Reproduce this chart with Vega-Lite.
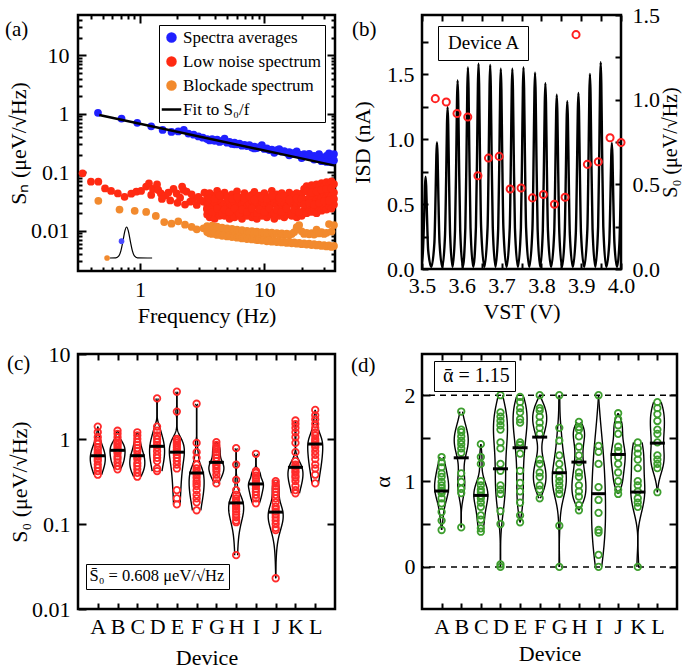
{
"$schema":"https://vega.github.io/schema/vega-lite/v6.json",
"padding":{"left":3,"top":2,"right":0,"bottom":0},
"config":{"font":"Liberation Serif","view":{"stroke":"black","strokeWidth":2.5},
"axis":{"labelFont":"Liberation Serif","labelFontSize":22,"titleFont":"Liberation Serif","titleFontSize":22,"titleFontWeight":"normal","labelColor":"black","titleColor":"black","tickColor":"black","tickWidth":2,"domain":false,"grid":false,"labelFlush":false,"labelOverlap":false,"labelBound":false},
"legend":{"labelFont":"Liberation Serif","labelColor":"black"},
"title":{"font":"Liberation Serif","fontSize":21,"fontWeight":"normal","anchor":"start","frame":"group","offset":0,"baseline":"alphabetic","color":"black"}},
"datasets":{
"blue":[{"f":0.459,"v":1.04},{"f":0.71,"v":0.83},{"f":0.95,"v":0.7},{"f":1.23,"v":0.61},{"f":1.52,"v":0.53},{"f":1.79,"v":0.49},{"f":2.03,"v":0.5},{"f":2.25,"v":0.53},{"f":2.45,"v":0.46},{"f":2.7,"v":0.44},{"f":2.95,"v":0.41},{"f":3.2,"v":0.39},{"f":3.467,"v":0.37},{"f":3.631,"v":0.35},{"f":3.802,"v":0.37},{"f":3.981,"v":0.345},{"f":4.169,"v":0.36},{"f":4.365,"v":0.33},{"f":4.571,"v":0.345},{"f":4.786,"v":0.375},{"f":5.012,"v":0.32},{"f":5.248,"v":0.33},{"f":5.495,"v":0.305},{"f":5.754,"v":0.32},{"f":6.026,"v":0.3},{"f":6.31,"v":0.31},{"f":6.607,"v":0.285},{"f":6.918,"v":0.295},{"f":7.244,"v":0.28},{"f":7.586,"v":0.29},{"f":7.943,"v":0.265},{"f":8.318,"v":0.275},{"f":8.71,"v":0.26},{"f":9.12,"v":0.27},{"f":9.55,"v":0.29},{"f":10,"v":0.25},{"f":10.47,"v":0.255},{"f":10.96,"v":0.24},{"f":11.48,"v":0.245},{"f":12.02,"v":0.23},{"f":12.59,"v":0.24},{"f":13.18,"v":0.25},{"f":13.8,"v":0.225},{"f":14.45,"v":0.23},{"f":15.14,"v":0.215},{"f":15.85,"v":0.22},{"f":16.6,"v":0.205},{"f":17.38,"v":0.215},{"f":18.2,"v":0.227},{"f":19.05,"v":0.2},{"f":19.95,"v":0.195},{"f":20.89,"v":0.205},{"f":21.88,"v":0.19},{"f":22.91,"v":0.207},{"f":23.99,"v":0.185},{"f":25.12,"v":0.19},{"f":26.3,"v":0.178},{"f":27.54,"v":0.205},{"f":28.84,"v":0.18},{"f":30.2,"v":0.17},{"f":31.62,"v":0.19},{"f":33.11,"v":0.21},{"f":34.67,"v":0.175},{"f":36.31,"v":0.205},{"f":15.85,"v":0.195},{"f":19.95,"v":0.175},{"f":25.12,"v":0.165},{"f":28.84,"v":0.155},{"f":31.62,"v":0.15},{"f":34.67,"v":0.148},{"f":36.31,"v":0.16},{"f":12.02,"v":0.215},{"f":8.318,"v":0.255},{"f":5.754,"v":0.3}],
"red":[{"f":0.345,"v":0.096},{"f":0.403,"v":0.069},{"f":0.462,"v":0.069},{"f":0.523,"v":0.053},{"f":0.585,"v":0.048},{"f":0.663,"v":0.0434},{"f":0.751,"v":0.038},{"f":0.85,"v":0.043},{"f":0.933,"v":0.0465},{"f":1.02,"v":0.048},{"f":1.12,"v":0.057},{"f":1.18,"v":0.0645},{"f":1.23,"v":0.041},{"f":1.27,"v":0.052},{"f":1.37,"v":0.062},{"f":1.4,"v":0.05},{"f":1.47,"v":0.0435},{"f":1.6,"v":0.04},{"f":1.69,"v":0.045},{"f":1.86,"v":0.052},{"f":1.97,"v":0.0435},{"f":2.1,"v":0.0367},{"f":2.18,"v":0.057},{"f":2.23,"v":0.05},{"f":2.37,"v":0.0465},{"f":2.53,"v":0.0314},{"f":2.69,"v":0.0356},{"f":2.86,"v":0.0276},{"f":3.05,"v":0.0335},{"f":3.24,"v":0.0314},{"f":3.45,"v":0.024},{"f":1.5,"v":0.035},{"f":1.75,"v":0.033},{"f":2.0,"v":0.03},{"f":2.3,"v":0.028},{"f":2.6,"v":0.042},{"f":2.95,"v":0.038},{"f":3.3,"v":0.045},
{"f":3.467,"v":0.037},{"f":3.467,"v":0.028},{"f":3.467,"v":0.019},{"f":3.631,"v":0.044},{"f":3.631,"v":0.031},{"f":3.631,"v":0.017},{"f":3.802,"v":0.033},{"f":3.802,"v":0.025},{"f":3.802,"v":0.021},{"f":3.981,"v":0.04},{"f":3.981,"v":0.03},{"f":3.981,"v":0.016},{"f":4.169,"v":0.048},{"f":4.169,"v":0.027},{"f":4.169,"v":0.02},{"f":4.365,"v":0.035},{"f":4.365,"v":0.033},{"f":4.365,"v":0.018},{"f":4.571,"v":0.041},{"f":4.571,"v":0.026},{"f":4.571,"v":0.022},{"f":4.786,"v":0.045},{"f":4.786,"v":0.029},{"f":4.786,"v":0.018},{"f":5.012,"v":0.039},{"f":5.012,"v":0.026},{"f":5.012,"v":0.021},{"f":5.248,"v":0.033},{"f":5.248,"v":0.032},{"f":5.248,"v":0.016},{"f":5.495,"v":0.042},{"f":5.495,"v":0.027},{"f":5.495,"v":0.019},{"f":5.754,"v":0.036},{"f":5.754,"v":0.03},{"f":5.754,"v":0.017},{"f":6.026,"v":0.047},{"f":6.026,"v":0.025},{"f":6.026,"v":0.022},{"f":6.31,"v":0.037},{"f":6.31,"v":0.033},{"f":6.31,"v":0.018},{"f":6.607,"v":0.034},{"f":6.607,"v":0.028},{"f":6.607,"v":0.016},{"f":6.918,"v":0.044},{"f":6.918,"v":0.031},{"f":6.918,"v":0.02},{"f":7.244,"v":0.038},{"f":7.244,"v":0.026},{"f":7.244,"v":0.018},{"f":7.586,"v":0.035},{"f":7.586,"v":0.029},{"f":7.586,"v":0.021},{"f":7.943,"v":0.041},{"f":7.943,"v":0.033},{"f":7.943,"v":0.017},{"f":8.318,"v":0.046},{"f":8.318,"v":0.027},{"f":8.318,"v":0.019},{"f":8.71,"v":0.036},{"f":8.71,"v":0.03},{"f":8.71,"v":0.016},{"f":9.12,"v":0.04},{"f":9.12,"v":0.025},{"f":9.12,"v":0.02},{"f":9.55,"v":0.034},{"f":9.55,"v":0.032},{"f":9.55,"v":0.018},{"f":10,"v":0.044},{"f":10,"v":0.028},{"f":10,"v":0.022},{"f":10.47,"v":0.038},{"f":10.47,"v":0.031},{"f":10.47,"v":0.017},{"f":10.96,"v":0.037},{"f":10.96,"v":0.026},{"f":10.96,"v":0.019},{"f":11.48,"v":0.048},{"f":11.48,"v":0.033},{"f":11.48,"v":0.021},{"f":12.02,"v":0.035},{"f":12.02,"v":0.029},{"f":12.02,"v":0.016},{"f":12.59,"v":0.042},{"f":12.59,"v":0.027},{"f":12.59,"v":0.02},{"f":13.18,"v":0.037},{"f":13.18,"v":0.032},{"f":13.18,"v":0.018},{"f":13.8,"v":0.044},{"f":13.8,"v":0.028},{"f":13.8,"v":0.022},{"f":14.45,"v":0.036},{"f":14.45,"v":0.03},{"f":14.45,"v":0.017},{"f":15.14,"v":0.04},{"f":15.14,"v":0.026},{"f":15.14,"v":0.019},{"f":15.85,"v":0.045},{"f":15.85,"v":0.033},{"f":15.85,"v":0.02},{"f":16.6,"v":0.037},{"f":16.6,"v":0.029},{"f":16.6,"v":0.018},{"f":17.38,"v":0.041},{"f":17.38,"v":0.031},{"f":17.38,"v":0.021},{"f":18.2,"v":0.044},{"f":18.2,"v":0.027},{"f":18.2,"v":0.017},{"f":19.05,"v":0.038},{"f":19.05,"v":0.032},{"f":19.05,"v":0.02},{"f":19.95,"v":0.043},{"f":19.95,"v":0.029},{"f":19.95,"v":0.018},{"f":20.89,"v":0.052},{"f":20.89,"v":0.034},{"f":20.89,"v":0.022},{"f":21.88,"v":0.058},{"f":21.88,"v":0.031},{"f":21.88,"v":0.02},{"f":22.91,"v":0.05},{"f":22.91,"v":0.036},{"f":22.91,"v":0.023},{"f":23.99,"v":0.06},{"f":23.99,"v":0.033},{"f":23.99,"v":0.021},{"f":25.12,"v":0.054},{"f":25.12,"v":0.038},{"f":25.12,"v":0.024},{"f":26.3,"v":0.062},{"f":26.3,"v":0.034},{"f":26.3,"v":0.02},{"f":27.54,"v":0.056},{"f":27.54,"v":0.04},{"f":27.54,"v":0.025},{"f":28.84,"v":0.065},{"f":28.84,"v":0.036},{"f":28.84,"v":0.022},{"f":30.2,"v":0.058},{"f":30.2,"v":0.041},{"f":30.2,"v":0.026},{"f":31.62,"v":0.068},{"f":31.62,"v":0.037},{"f":31.62,"v":0.023},{"f":33.11,"v":0.06},{"f":33.11,"v":0.043},{"f":33.11,"v":0.027},{"f":34.67,"v":0.07},{"f":34.67,"v":0.039},{"f":34.67,"v":0.024},{"f":36.31,"v":0.063},{"f":36.31,"v":0.045},{"f":36.31,"v":0.028},
{"f":3.467,"v":0.023},{"f":3.631,"v":0.036},{"f":3.802,"v":0.021},{"f":3.981,"v":0.035},{"f":4.169,"v":0.024},{"f":4.365,"v":0.04},{"f":4.571,"v":0.02},{"f":4.786,"v":0.023},{"f":5.012,"v":0.036},{"f":5.248,"v":0.021},{"f":5.495,"v":0.035},{"f":5.754,"v":0.024},{"f":6.026,"v":0.038},{"f":6.31,"v":0.02},{"f":6.607,"v":0.023},{"f":6.918,"v":0.036},{"f":7.244,"v":0.021},{"f":7.586,"v":0.039},{"f":7.943,"v":0.024},{"f":8.318,"v":0.034},{"f":8.71,"v":0.02},{"f":9.12,"v":0.023},{"f":9.55,"v":0.036},{"f":10,"v":0.021},{"f":10.47,"v":0.035},{"f":10.96,"v":0.024},{"f":11.48,"v":0.04},{"f":12.02,"v":0.02},{"f":12.59,"v":0.023},{"f":13.18,"v":0.036},{"f":13.8,"v":0.021},{"f":14.45,"v":0.039},{"f":15.14,"v":0.024},{"f":15.85,"v":0.034},{"f":16.6,"v":0.02},{"f":17.38,"v":0.023},{"f":18.2,"v":0.036},{"f":19.05,"v":0.021},{"f":19.95,"v":0.035},{"f":20.89,"v":0.028},{"f":21.88,"v":0.047},{"f":22.91,"v":0.03},{"f":23.99,"v":0.045},{"f":25.12,"v":0.028},{"f":26.3,"v":0.047},{"f":27.54,"v":0.03},{"f":28.84,"v":0.05},{"f":30.2,"v":0.032},{"f":31.62,"v":0.052},{"f":33.11,"v":0.033},{"f":34.67,"v":0.053},{"f":36.31,"v":0.035}],
"orange":[{"f":0.462,"v":0.0325},{"f":0.684,"v":0.023},{"f":0.906,"v":0.0219},{"f":1.12,"v":0.021},{"f":1.34,"v":0.0179},{"f":1.565,"v":0.0141},{"f":1.79,"v":0.0132},{"f":2.03,"v":0.0145},{"f":2.3,"v":0.0127},{"f":2.6,"v":0.0116},{"f":2.86,"v":0.0106},{"f":3.24,"v":0.011},
{"f":3.467,"v":0.012},{"f":3.467,"v":0.0095},{"f":3.631,"v":0.0115},{"f":3.631,"v":0.009},{"f":3.802,"v":0.0122},{"f":3.802,"v":0.0088},{"f":3.981,"v":0.011},{"f":3.981,"v":0.0092},{"f":4.169,"v":0.0118},{"f":4.169,"v":0.0085},{"f":4.365,"v":0.0108},{"f":4.365,"v":0.0089},{"f":4.571,"v":0.0113},{"f":4.571,"v":0.0082},{"f":4.786,"v":0.0105},{"f":4.786,"v":0.0086},{"f":5.012,"v":0.011},{"f":5.012,"v":0.008},{"f":5.248,"v":0.0102},{"f":5.248,"v":0.0084},{"f":5.495,"v":0.0108},{"f":5.495,"v":0.0078},{"f":5.754,"v":0.01},{"f":5.754,"v":0.0081},{"f":6.026,"v":0.0105},{"f":6.026,"v":0.0076},{"f":6.31,"v":0.0098},{"f":6.31,"v":0.0079},{"f":6.607,"v":0.0103},{"f":6.607,"v":0.0074},{"f":6.918,"v":0.0096},{"f":6.918,"v":0.0077},{"f":7.244,"v":0.01},{"f":7.244,"v":0.0072},{"f":7.586,"v":0.0094},{"f":7.586,"v":0.0075},{"f":7.943,"v":0.0099},{"f":7.943,"v":0.0071},{"f":8.318,"v":0.0092},{"f":8.318,"v":0.0073},{"f":8.71,"v":0.0097},{"f":8.71,"v":0.0069},{"f":9.12,"v":0.009},{"f":9.12,"v":0.0072},{"f":9.55,"v":0.0095},{"f":9.55,"v":0.0068},{"f":10,"v":0.0089},{"f":10,"v":0.007},{"f":10.47,"v":0.0094},{"f":10.47,"v":0.0066},{"f":10.96,"v":0.0088},{"f":10.96,"v":0.0069},{"f":11.48,"v":0.0093},{"f":11.48,"v":0.0065},{"f":12.02,"v":0.0087},{"f":12.02,"v":0.0067},{"f":12.59,"v":0.0091},{"f":12.59,"v":0.0064},{"f":13.18,"v":0.0086},{"f":13.18,"v":0.0066},{"f":13.8,"v":0.009},{"f":13.8,"v":0.0063},{"f":14.45,"v":0.0085},{"f":14.45,"v":0.0065},{"f":15.14,"v":0.0089},{"f":15.14,"v":0.0062},{"f":15.85,"v":0.0084},{"f":15.85,"v":0.0064},{"f":16.6,"v":0.0088},{"f":16.6,"v":0.0061},{"f":17.38,"v":0.0095},{"f":17.38,"v":0.0063},{"f":18.2,"v":0.0115},{"f":18.2,"v":0.006},{"f":19.05,"v":0.0125},{"f":19.05,"v":0.0062},{"f":19.95,"v":0.0098},{"f":19.95,"v":0.0059},{"f":20.89,"v":0.0088},{"f":20.89,"v":0.0061},{"f":21.88,"v":0.0092},{"f":21.88,"v":0.0058},{"f":22.91,"v":0.0087},{"f":22.91,"v":0.006},{"f":23.99,"v":0.0091},{"f":23.99,"v":0.0057},{"f":25.12,"v":0.0086},{"f":25.12,"v":0.0059},{"f":26.3,"v":0.0105},{"f":26.3,"v":0.0056},{"f":27.54,"v":0.009},{"f":27.54,"v":0.0058},{"f":28.84,"v":0.0095},{"f":28.84,"v":0.0055},{"f":30.2,"v":0.0088},{"f":30.2,"v":0.0057},{"f":31.62,"v":0.0092},{"f":31.62,"v":0.0054},{"f":33.11,"v":0.013},{"f":33.11,"v":0.0056},{"f":34.67,"v":0.0097},{"f":34.67,"v":0.0053},{"f":36.31,"v":0.0125},{"f":36.31,"v":0.0055}],
"fit":[{"f":0.47,"v":0.95},{"f":37,"v":0.13}],
"inset":[{"f":0.571,"v":0.003423},{"f":0.639,"v":0.00345},{"f":0.6756,"v":0.003722},{"f":0.7013,"v":0.004541},{"f":0.7281,"v":0.006592},{"f":0.7556,"v":0.009954},{"f":0.78,"v":0.01159},{"f":0.805,"v":0.009954},{"f":0.836,"v":0.006592},{"f":0.868,"v":0.004541},{"f":0.901,"v":0.003722},{"f":0.953,"v":0.00345},{"f":1.251,"v":0.003423}],
"insetBlue":[{"f":0.71,"v":0.00664}],
"insetOrange":[{"f":0.543,"v":0.00342}],
"iv":[{"V":3.5,"I":0.05},{"V":3.5025,"I":0.146},{"V":3.5055,"I":0.413},{"V":3.5075,"I":0.638},{"V":3.509,"I":0.71},{"V":3.5105,"I":0.638},{"V":3.5125,"I":0.413},{"V":3.5155,"I":0.146},{"V":3.5233,"I":0.015},
{"V":3.5311,"I":0.2},{"V":3.5341,"I":0.566},{"V":3.5361,"I":0.876},{"V":3.5376,"I":0.975},{"V":3.5391,"I":0.876},{"V":3.5411,"I":0.566},{"V":3.5441,"I":0.2},{"V":3.551,"I":0.015},
{"V":3.5578,"I":0.255},{"V":3.5608,"I":0.723},{"V":3.5628,"I":1.118},{"V":3.5643,"I":1.245},{"V":3.5658,"I":1.118},{"V":3.5678,"I":0.723},{"V":3.5708,"I":0.255},{"V":3.5769,"I":0.015},
{"V":3.583,"I":0.297},{"V":3.586,"I":0.842},{"V":3.588,"I":1.302},{"V":3.5895,"I":1.45},{"V":3.591,"I":1.302},{"V":3.593,"I":0.842},{"V":3.596,"I":0.297},{"V":3.6025,"I":0.015},
{"V":3.6089,"I":0.318},{"V":3.6119,"I":0.901},{"V":3.6139,"I":1.392},{"V":3.6154,"I":1.55},{"V":3.6169,"I":1.392},{"V":3.6189,"I":0.901},{"V":3.6219,"I":0.318},{"V":3.6287,"I":0.015},
{"V":3.6355,"I":0.324},{"V":3.6385,"I":0.918},{"V":3.6405,"I":1.419},{"V":3.642,"I":1.58},{"V":3.6435,"I":1.419},{"V":3.6455,"I":0.918},{"V":3.6485,"I":0.324},{"V":3.6567,"I":0.015},
{"V":3.6648,"I":0.322},{"V":3.6678,"I":0.912},{"V":3.6698,"I":1.41},{"V":3.6713,"I":1.57},{"V":3.6728,"I":1.41},{"V":3.6748,"I":0.912},{"V":3.6778,"I":0.322},{"V":3.6847,"I":0.015},
{"V":3.6915,"I":0.316},{"V":3.6945,"I":0.895},{"V":3.6965,"I":1.383},{"V":3.698,"I":1.54},{"V":3.6995,"I":1.383},{"V":3.7015,"I":0.895},{"V":3.7045,"I":0.316},{"V":3.7125,"I":0.015},
{"V":3.7205,"I":0.316},{"V":3.7235,"I":0.895},{"V":3.7255,"I":1.383},{"V":3.727,"I":1.54},{"V":3.7285,"I":1.383},{"V":3.7305,"I":0.895},{"V":3.7335,"I":0.316},{"V":3.741,"I":0.015},
{"V":3.7485,"I":0.318},{"V":3.7515,"I":0.901},{"V":3.7535,"I":1.392},{"V":3.755,"I":1.55},{"V":3.7565,"I":1.392},{"V":3.7585,"I":0.901},{"V":3.7615,"I":0.318},{"V":3.7695,"I":0.015},
{"V":3.7775,"I":0.31},{"V":3.7805,"I":0.877},{"V":3.7825,"I":1.356},{"V":3.784,"I":1.51},{"V":3.7855,"I":1.356},{"V":3.7875,"I":0.877},{"V":3.7905,"I":0.31},{"V":3.797,"I":0.015},
{"V":3.8035,"I":0.293},{"V":3.8065,"I":0.831},{"V":3.8085,"I":1.284},{"V":3.81,"I":1.43},{"V":3.8115,"I":1.284},{"V":3.8135,"I":0.831},{"V":3.8165,"I":0.293},{"V":3.8243,"I":0.015},
{"V":3.8321,"I":0.275},{"V":3.8351,"I":0.779},{"V":3.8371,"I":1.203},{"V":3.8386,"I":1.34},{"V":3.8401,"I":1.203},{"V":3.8421,"I":0.779},{"V":3.8451,"I":0.275},{"V":3.8518,"I":0.015},
{"V":3.8585,"I":0.264},{"V":3.8615,"I":0.749},{"V":3.8635,"I":1.158},{"V":3.865,"I":1.29},{"V":3.8665,"I":1.158},{"V":3.8685,"I":0.749},{"V":3.8715,"I":0.264},{"V":3.879,"I":0.015},
{"V":3.8865,"I":0.278},{"V":3.8895,"I":0.787},{"V":3.8915,"I":1.217},{"V":3.893,"I":1.355},{"V":3.8945,"I":1.217},{"V":3.8965,"I":0.787},{"V":3.8995,"I":0.278},{"V":3.9075,"I":0.015},
{"V":3.9155,"I":0.308},{"V":3.9185,"I":0.872},{"V":3.9205,"I":1.347},{"V":3.922,"I":1.5},{"V":3.9235,"I":1.347},{"V":3.9255,"I":0.872},{"V":3.9285,"I":0.308},{"V":3.9355,"I":0.015},
{"V":3.9425,"I":0.326},{"V":3.9455,"I":0.924},{"V":3.9475,"I":1.428},{"V":3.949,"I":1.59},{"V":3.9505,"I":1.428},{"V":3.9525,"I":0.924},{"V":3.9555,"I":0.326},{"V":3.963,"I":0.015},
{"V":3.9705,"I":0.199},{"V":3.9735,"I":0.564},{"V":3.9755,"I":0.871},{"V":3.977,"I":0.97},{"V":3.9785,"I":0.871},{"V":3.9805,"I":0.564},{"V":3.9835,"I":0.199},{"V":3.99,"I":0.015},
{"V":3.996,"I":0.195},{"V":3.999,"I":0.552},{"V":4.001,"I":0.853},{"V":4.0025,"I":0.95}],
"s0b":[{"V":3.5334,"S":1.006},{"V":3.561,"S":0.986},{"V":3.588,"S":0.918},{"V":3.615,"S":0.898},{"V":3.6405,"S":0.551},{"V":3.667,"S":0.655},{"V":3.694,"S":0.665},{"V":3.7215,"S":0.472},{"V":3.749,"S":0.478},{"V":3.7775,"S":0.42},{"V":3.805,"S":0.44},{"V":3.8327,"S":0.382},{"V":3.8595,"S":0.424},{"V":3.887,"S":1.384},{"V":3.9155,"S":0.618},{"V":3.943,"S":0.633},{"V":3.9725,"S":0.775},{"V":4.0,"S":0.747}],
"c":[{"device":"A","s":1.4},{"device":"A","s":1.2},{"device":"A","s":1.05},{"device":"A","s":0.95},{"device":"A","s":0.88},{"device":"A","s":0.8},{"device":"A","s":0.75},{"device":"A","s":0.7},{"device":"A","s":0.66},{"device":"A","s":0.62},{"device":"A","s":0.58},{"device":"A","s":0.55},{"device":"A","s":0.5},{"device":"A","s":0.46},{"device":"A","s":0.42},{"device":"A","s":0.38},
{"device":"B","s":1.25},{"device":"B","s":1.15},{"device":"B","s":1.05},{"device":"B","s":0.95},{"device":"B","s":0.9},{"device":"B","s":0.85},{"device":"B","s":0.8},{"device":"B","s":0.75},{"device":"B","s":0.72},{"device":"B","s":0.68},{"device":"B","s":0.62},{"device":"B","s":0.58},{"device":"B","s":0.53},{"device":"B","s":0.48},{"device":"B","s":0.44},
{"device":"C","s":1.2},{"device":"C","s":1.1},{"device":"C","s":1.0},{"device":"C","s":0.92},{"device":"C","s":0.85},{"device":"C","s":0.78},{"device":"C","s":0.72},{"device":"C","s":0.65},{"device":"C","s":0.62},{"device":"C","s":0.58},{"device":"C","s":0.52},{"device":"C","s":0.48},{"device":"C","s":0.44},{"device":"C","s":0.4},{"device":"C","s":0.36},
{"device":"D","s":3.0},{"device":"D","s":1.4},{"device":"D","s":1.25},{"device":"D","s":1.1},{"device":"D","s":1.0},{"device":"D","s":0.92},{"device":"D","s":0.85},{"device":"D","s":0.8},{"device":"D","s":0.72},{"device":"D","s":0.65},{"device":"D","s":0.6},{"device":"D","s":0.55},{"device":"D","s":0.45},{"device":"D","s":0.42},
{"device":"E","s":3.6},{"device":"E","s":2.1},{"device":"E","s":1.0},{"device":"E","s":0.95},{"device":"E","s":0.9},{"device":"E","s":0.85},{"device":"E","s":0.8},{"device":"E","s":0.75},{"device":"E","s":0.7},{"device":"E","s":0.65},{"device":"E","s":0.6},{"device":"E","s":0.55},{"device":"E","s":0.5},{"device":"E","s":0.45},{"device":"E","s":0.25},{"device":"E","s":0.2},{"device":"E","s":0.17},
{"device":"F","s":2.6},{"device":"F","s":0.9},{"device":"F","s":0.7},{"device":"F","s":0.6},{"device":"F","s":0.5},{"device":"F","s":0.45},{"device":"F","s":0.42},{"device":"F","s":0.4},{"device":"F","s":0.38},{"device":"F","s":0.35},{"device":"F","s":0.32},{"device":"F","s":0.3},{"device":"F","s":0.28},{"device":"F","s":0.25},{"device":"F","s":0.22},{"device":"F","s":0.2},{"device":"F","s":0.18},{"device":"F","s":0.145},
{"device":"G","s":0.92},{"device":"G","s":0.85},{"device":"G","s":0.8},{"device":"G","s":0.75},{"device":"G","s":0.7},{"device":"G","s":0.65},{"device":"G","s":0.6},{"device":"G","s":0.55},{"device":"G","s":0.5},{"device":"G","s":0.48},{"device":"G","s":0.45},{"device":"G","s":0.42},{"device":"G","s":0.38},{"device":"G","s":0.34},{"device":"G","s":0.3},
{"device":"H","s":0.78},{"device":"H","s":0.5},{"device":"H","s":0.33},{"device":"H","s":0.25},{"device":"H","s":0.22},{"device":"H","s":0.2},{"device":"H","s":0.19},{"device":"H","s":0.18},{"device":"H","s":0.17},{"device":"H","s":0.16},{"device":"H","s":0.15},{"device":"H","s":0.14},{"device":"H","s":0.13},{"device":"H","s":0.12},{"device":"H","s":0.11},{"device":"H","s":0.105},{"device":"H","s":0.043},
{"device":"I","s":0.67},{"device":"I","s":0.42},{"device":"I","s":0.4},{"device":"I","s":0.37},{"device":"I","s":0.34},{"device":"I","s":0.32},{"device":"I","s":0.3},{"device":"I","s":0.29},{"device":"I","s":0.28},{"device":"I","s":0.26},{"device":"I","s":0.24},{"device":"I","s":0.22},{"device":"I","s":0.2},{"device":"I","s":0.175},
{"device":"J","s":0.32},{"device":"J","s":0.3},{"device":"J","s":0.28},{"device":"J","s":0.26},{"device":"J","s":0.24},{"device":"J","s":0.22},{"device":"J","s":0.2},{"device":"J","s":0.18},{"device":"J","s":0.16},{"device":"J","s":0.15},{"device":"J","s":0.14},{"device":"J","s":0.13},{"device":"J","s":0.12},{"device":"J","s":0.11},{"device":"J","s":0.1},{"device":"J","s":0.09},{"device":"J","s":0.085},{"device":"J","s":0.023},
{"device":"K","s":1.65},{"device":"K","s":1.5},{"device":"K","s":1.35},{"device":"K","s":1.2},{"device":"K","s":1.05},{"device":"K","s":0.9},{"device":"K","s":0.7},{"device":"K","s":0.55},{"device":"K","s":0.5},{"device":"K","s":0.48},{"device":"K","s":0.45},{"device":"K","s":0.42},{"device":"K","s":0.4},{"device":"K","s":0.37},{"device":"K","s":0.35},{"device":"K","s":0.32},{"device":"K","s":0.28},{"device":"K","s":0.25},{"device":"K","s":0.23},
{"device":"L","s":2.2},{"device":"L","s":1.9},{"device":"L","s":1.7},{"device":"L","s":1.5},{"device":"L","s":1.35},{"device":"L","s":1.2},{"device":"L","s":1.1},{"device":"L","s":1.0},{"device":"L","s":0.95},{"device":"L","s":0.9},{"device":"L","s":0.85},{"device":"L","s":0.8},{"device":"L","s":0.72},{"device":"L","s":0.65},{"device":"L","s":0.58},{"device":"L","s":0.5},{"device":"L","s":0.45},{"device":"L","s":0.38},{"device":"L","s":0.3}],
"cmed":[{"device":"A","s":0.636},{"device":"B","s":0.736},{"device":"C","s":0.636},{"device":"D","s":0.82},{"device":"E","s":0.7},{"device":"F","s":0.398},{"device":"G","s":0.531},{"device":"H","s":0.177},{"device":"I","s":0.296},{"device":"J","s":0.138},{"device":"K","s":0.464},{"device":"L","s":0.873}],
"d":[{"device":"A","a":1.28},{"device":"A","a":1.22},{"device":"A","a":1.16},{"device":"A","a":1.09},{"device":"A","a":1.05},{"device":"A","a":0.99},{"device":"A","a":0.95},{"device":"A","a":0.92},{"device":"A","a":0.89},{"device":"A","a":0.86},{"device":"A","a":0.8},{"device":"A","a":0.74},{"device":"A","a":0.64},{"device":"A","a":0.54},{"device":"A","a":0.43},
{"device":"B","a":1.81},{"device":"B","a":1.6},{"device":"B","a":1.57},{"device":"B","a":1.52},{"device":"B","a":1.47},{"device":"B","a":1.43},{"device":"B","a":1.38},{"device":"B","a":1.33},{"device":"B","a":1.09},{"device":"B","a":0.99},{"device":"B","a":0.91},{"device":"B","a":0.86},{"device":"B","a":0.46},
{"device":"C","a":1.43},{"device":"C","a":1.28},{"device":"C","a":1.2},{"device":"C","a":1.0},{"device":"C","a":0.95},{"device":"C","a":0.9},{"device":"C","a":0.87},{"device":"C","a":0.83},{"device":"C","a":0.8},{"device":"C","a":0.75},{"device":"C","a":0.7},{"device":"C","a":0.6},{"device":"C","a":0.55},{"device":"C","a":0.45},{"device":"C","a":0.41},
{"device":"D","a":2.0},{"device":"D","a":1.8},{"device":"D","a":1.75},{"device":"D","a":1.7},{"device":"D","a":1.65},{"device":"D","a":1.6},{"device":"D","a":1.45},{"device":"D","a":1.38},{"device":"D","a":1.2},{"device":"D","a":1.12},{"device":"D","a":0.95},{"device":"D","a":0.9},{"device":"D","a":0.85},{"device":"D","a":0.65},{"device":"D","a":0.5},{"device":"D","a":0.03},{"device":"D","a":0.0},
{"device":"E","a":1.98},{"device":"E","a":1.92},{"device":"E","a":1.85},{"device":"E","a":1.8},{"device":"E","a":1.72},{"device":"E","a":1.68},{"device":"E","a":1.45},{"device":"E","a":1.42},{"device":"E","a":1.32},{"device":"E","a":1.12},{"device":"E","a":0.98},{"device":"E","a":0.88},{"device":"E","a":0.75},{"device":"E","a":0.6},{"device":"E","a":0.52},
{"device":"F","a":2.0},{"device":"F","a":1.85},{"device":"F","a":1.82},{"device":"F","a":1.75},{"device":"F","a":1.68},{"device":"F","a":1.62},{"device":"F","a":1.55},{"device":"F","a":1.25},{"device":"F","a":1.2},{"device":"F","a":1.1},{"device":"F","a":1.05},{"device":"F","a":0.95},{"device":"F","a":0.9},{"device":"F","a":0.8},
{"device":"G","a":2.0},{"device":"G","a":1.62},{"device":"G","a":1.47},{"device":"G","a":1.3},{"device":"G","a":1.2},{"device":"G","a":1.12},{"device":"G","a":1.05},{"device":"G","a":1.0},{"device":"G","a":0.95},{"device":"G","a":0.9},{"device":"G","a":0.85},{"device":"G","a":0.48},{"device":"G","a":0.0},
{"device":"H","a":1.69},{"device":"H","a":1.63},{"device":"H","a":1.6},{"device":"H","a":1.52},{"device":"H","a":1.4},{"device":"H","a":1.3},{"device":"H","a":1.22},{"device":"H","a":1.1},{"device":"H","a":1.05},{"device":"H","a":0.95},{"device":"H","a":0.88},{"device":"H","a":0.82},{"device":"H","a":0.72},{"device":"H","a":0.66},
{"device":"I","a":2.0},{"device":"I","a":1.41},{"device":"I","a":1.34},{"device":"I","a":1.2},{"device":"I","a":0.93},{"device":"I","a":0.78},{"device":"I","a":0.63},{"device":"I","a":0.43},{"device":"I","a":0.4},{"device":"I","a":0.14},{"device":"I","a":0.0},
{"device":"J","a":1.79},{"device":"J","a":1.72},{"device":"J","a":1.65},{"device":"J","a":1.55},{"device":"J","a":1.4},{"device":"J","a":1.35},{"device":"J","a":1.28},{"device":"J","a":1.2},{"device":"J","a":1.1},{"device":"J","a":1.0},{"device":"J","a":0.9},{"device":"J","a":0.85},
{"device":"K","a":1.45},{"device":"K","a":1.38},{"device":"K","a":1.32},{"device":"K","a":1.25},{"device":"K","a":1.15},{"device":"K","a":1.0},{"device":"K","a":0.95},{"device":"K","a":0.88},{"device":"K","a":0.8},{"device":"K","a":0.75},{"device":"K","a":0.7},{"device":"K","a":0.0},
{"device":"L","a":1.92},{"device":"L","a":1.85},{"device":"L","a":1.78},{"device":"L","a":1.7},{"device":"L","a":1.6},{"device":"L","a":1.55},{"device":"L","a":1.45},{"device":"L","a":1.3},{"device":"L","a":1.25},{"device":"L","a":1.2},{"device":"L","a":1.15},{"device":"L","a":0.87}],
"dmed":[{"device":"A","a":0.884},{"device":"B","a":1.271},{"device":"C","a":0.833},{"device":"D","a":1.143},{"device":"E","a":1.388},{"device":"F","a":1.512},{"device":"G","a":1.097},{"device":"H","a":1.221},{"device":"I","a":0.853},{"device":"J","a":1.31},{"device":"K","a":0.872},{"device":"L","a":1.442}],
"dlines":[{"a":0},{"a":2}]
},
"columns":2,
"bounds":"flush",
"spacing":{"row":83,"column":87},
"resolve":{"scale":{"color":"independent","shape":"independent"},"legend":{"color":"independent","shape":"independent"}},
"concat":[
{"width":257,"height":256,"title":{"text":"(a)","dx":-73,"dy":30},
"layer":[
{"data":{"name":"blue"},"mark":{"type":"point","filled":true,"size":60,"opacity":1},
"encoding":{"x":{"field":"f","type":"quantitative","scale":{"type":"log","domain":[0.317,37],"nice":false},"axis":{"orient":"bottom","values":[1,10],"format":"~g","title":"Frequency (Hz)","tickSize":-8,"labelPadding":16,"titlePadding":5}},
"y":{"field":"v","type":"quantitative","scale":{"type":"log","domain":[0.00205,48.9],"nice":false},"axis":{"orient":"left","values":[0.01,0.1,1,10],"format":"~g","title":"Sₙ (μeV/√Hz)","tickSize":-8,"labelPadding":17,"titlePadding":0}},
"color":{"datum":"Spectra averages","type":"nominal","scale":{"domain":["Spectra averages","Low noise spectrum","Blockade spectrum","Fit to S₀/f"],"range":["#2020ff","#ff2a12","#f28a2e","black"]},
"legend":{"orient":"none","legendX":81,"legendY":10,"title":null,"padding":4,"strokeColor":"black","fillColor":"white","labelFontSize":17,"labelFont":"Liberation Serif","symbolSize":380,"rowPadding":5,"labelOffset":3,"symbolStrokeWidth":2.5,"symbolOpacity":1,
"encode":{"symbols":{"update":{"shape":{"signal":"datum.value === 'Fit to S₀/f' ? 'stroke' : 'circle'"},"size":{"signal":"datum.value === 'Fit to S₀/f' ? 380 : 64"},"stroke":{"signal":"datum.value === 'Fit to S₀/f' ? 'black' : 'transparent'"},"fill":{"signal":"datum.value === 'Spectra averages' ? '#2020ff' : datum.value === 'Low noise spectrum' ? '#ff2a12' : datum.value === 'Blockade spectrum' ? '#f28a2e' : 'black'"}}}}}}}},
{"data":{"name":"red"},"mark":{"type":"point","filled":true,"size":60,"opacity":1},
"encoding":{"x":{"field":"f","type":"quantitative","scale":{"type":"log","domain":[0.317,37],"nice":false},"axis":{"orient":"bottom","values":[0.4,0.5,0.6,0.7,0.8,0.9,2,3,4,5,6,7,8,9,20,30],"labels":false,"title":null,"tickSize":-4}},
"y":{"field":"v","type":"quantitative","scale":{"type":"log","domain":[0.00205,48.9],"nice":false},"axis":{"orient":"left","values":[0.003,0.004,0.005,0.006,0.007,0.008,0.009,0.02,0.03,0.04,0.05,0.06,0.07,0.08,0.09,0.2,0.3,0.4,0.5,0.6,0.7,0.8,0.9,2,3,4,5,6,7,8,9,20,30,40],"labels":false,"title":null,"tickSize":-4}},
"color":{"datum":"Low noise spectrum","type":"nominal"}}},
{"data":{"name":"orange"},"mark":{"type":"point","filled":true,"size":60,"opacity":1},
"encoding":{"x":{"field":"f","type":"quantitative","scale":{"type":"log","domain":[0.317,37],"nice":false},"axis":{"orient":"top","values":[1,10],"labels":false,"title":null,"tickSize":-8}},
"y":{"field":"v","type":"quantitative","scale":{"type":"log","domain":[0.00205,48.9],"nice":false},"axis":{"orient":"right","values":[0.01,0.1,1,10],"labels":false,"title":null,"tickSize":-8}},
"color":{"datum":"Blockade spectrum","type":"nominal"}}},
{"data":{"name":"fit"},"mark":{"type":"line","strokeWidth":2.5},
"encoding":{"x":{"field":"f","type":"quantitative","scale":{"type":"log","domain":[0.317,37],"nice":false},"axis":{"orient":"top","values":[0.4,0.5,0.6,0.7,0.8,0.9,2,3,4,5,6,7,8,9,20,30],"labels":false,"title":null,"tickSize":-4}},
"y":{"field":"v","type":"quantitative","scale":{"type":"log","domain":[0.00205,48.9],"nice":false},"axis":{"orient":"right","values":[0.003,0.004,0.005,0.006,0.007,0.008,0.009,0.02,0.03,0.04,0.05,0.06,0.07,0.08,0.09,0.2,0.3,0.4,0.5,0.6,0.7,0.8,0.9,2,3,4,5,6,7,8,9,20,30,40],"labels":false,"title":null,"tickSize":-4}},
"color":{"datum":"Fit to S₀/f","type":"nominal"}}},
{"data":{"name":"inset"},"mark":{"type":"line","color":"black","strokeWidth":1.2,"interpolate":"monotone"},
"encoding":{"x":{"field":"f","type":"quantitative","scale":{"type":"log","domain":[0.317,37],"nice":false},"axis":null},"y":{"field":"v","type":"quantitative","scale":{"type":"log","domain":[0.00205,48.9],"nice":false},"axis":null}}},
{"data":{"name":"insetBlue"},"mark":{"type":"point","filled":true,"size":32,"opacity":1,"color":"#4a4aff"},
"encoding":{"x":{"field":"f","type":"quantitative","axis":null},"y":{"field":"v","type":"quantitative","axis":null}}},
{"data":{"name":"insetOrange"},"mark":{"type":"point","filled":true,"size":32,"opacity":1,"color":"#f28a2e"},
"encoding":{"x":{"field":"f","type":"quantitative","axis":null},"y":{"field":"v","type":"quantitative","axis":null}}}
],
"resolve":{"axis":{"x":"independent","y":"independent"}}},
{"width":199,"height":254,"title":{"text":"(b)","dx":-70,"dy":40},
"layer":[
{"data":{"name":"iv"},"mark":{"type":"line","color":"black","strokeWidth":2.4,"interpolate":"monotone","clip":true},
"encoding":{"x":{"field":"V","type":"quantitative","scale":{"domain":[3.5,4.0],"nice":false,"zero":false},"axis":{"orient":"bottom","values":[3.5,3.55,3.6,3.65,3.7,3.75,3.8,3.85,3.9,3.95,4.0],"labelExpr":"abs(datum.value*10 - round(datum.value*10)) < 0.001 ? format(datum.value, '.1f') : ''","title":"VST (V)","tickSize":-6,"labelPadding":12,"titlePadding":5}},
"y":{"field":"I","type":"quantitative","scale":{"domain":[0,1.954],"nice":false},"axis":{"orient":"left","values":[0,0.25,0.5,0.75,1,1.25,1.5,1.75],"labelExpr":"abs(datum.value*2 - round(datum.value*2)) < 0.001 ? format(datum.value, '.1f') : ''","title":"ISD (nA)","tickSize":-6,"labelPadding":14,"titlePadding":12}}}},
{"data":{"name":"s0b"},"mark":{"type":"point","filled":false,"color":"#ff2020","strokeWidth":2,"size":50,"opacity":1},
"encoding":{"x":{"field":"V","type":"quantitative","scale":{"domain":[3.5,4.0],"nice":false,"zero":false},"axis":{"orient":"top","values":[3.5,3.55,3.6,3.65,3.7,3.75,3.8,3.85,3.9,3.95,4.0],"labels":false,"title":null,"tickSize":-6}},
"y":{"field":"S","type":"quantitative","scale":{"domain":[0,1.5],"nice":false},"axis":{"orient":"right","values":[0,0.25,0.5,0.75,1,1.25,1.5],"labelExpr":"abs(datum.value*2 - round(datum.value*2)) < 0.001 ? format(datum.value, '.1f') : ''","title":"S₀ (μeV/√Hz)","titleFontSize":20,"titleAngle":270,"titleBaseline":"top","tickSize":-6,"labelPadding":17,"titlePadding":1}},
"shape":{"datum":"Device A","type":"nominal","scale":{"range":["circle"]},"legend":{"orient":"none","legendX":16,"legendY":11,"title":null,"padding":7,"strokeColor":"black","fillColor":"white","labelFontSize":19,"symbolSize":0,"symbolOpacity":0,"symbolStrokeWidth":0,"labelOffset":-16}}}}
],
"resolve":{"scale":{"y":"independent"},"axis":{"x":"independent","y":"independent"}}},
{"width":257,"height":255,"title":{"text":"(c)","dx":-71,"dy":35},
"layer":[
{"data":{"name":"c"},"transform":[{"filter":"datum.device==='A'"},{"density":"s","groupby":["device"],"bandwidth":0.12,"as":["s","density"]}],"mark":{"type":"line","color":"black","strokeWidth":1.4},"encoding":{"x":{"field":"device","type":"nominal","scale":{"type":"point","domain":["A","B","C","D","E","F","G","H","I","J","K","L"],"padding":1.07},"axis":null},"y":{"field":"s","type":"quantitative","scale":{"type":"log","domain":[0.01,10],"nice":false},"axis":null},"xOffset":{"field":"density","type":"quantitative","scale":{"range":[0,7.5]}},"order":{"field":"s","type":"quantitative"}}},
{"data":{"name":"c"},"transform":[{"filter":"datum.device==='A'"},{"density":"s","groupby":["device"],"bandwidth":0.12,"as":["s","density"]}],"mark":{"type":"line","color":"black","strokeWidth":1.4},"encoding":{"x":{"field":"device","type":"nominal","scale":{"type":"point","domain":["A","B","C","D","E","F","G","H","I","J","K","L"],"padding":1.07},"axis":null},"y":{"field":"s","type":"quantitative","scale":{"type":"log","domain":[0.01,10],"nice":false},"axis":null},"xOffset":{"field":"density","type":"quantitative","scale":{"range":[0,-7.5]}},"order":{"field":"s","type":"quantitative"}}},
{"data":{"name":"c"},"transform":[{"filter":"datum.device==='B'"},{"density":"s","groupby":["device"],"bandwidth":0.1,"as":["s","density"]}],"mark":{"type":"line","color":"black","strokeWidth":1.4},"encoding":{"x":{"field":"device","type":"nominal","scale":{"type":"point","domain":["A","B","C","D","E","F","G","H","I","J","K","L"],"padding":1.07},"axis":null},"y":{"field":"s","type":"quantitative","scale":{"type":"log","domain":[0.01,10],"nice":false},"axis":null},"xOffset":{"field":"density","type":"quantitative","scale":{"range":[0,7.5]}},"order":{"field":"s","type":"quantitative"}}},
{"data":{"name":"c"},"transform":[{"filter":"datum.device==='B'"},{"density":"s","groupby":["device"],"bandwidth":0.1,"as":["s","density"]}],"mark":{"type":"line","color":"black","strokeWidth":1.4},"encoding":{"x":{"field":"device","type":"nominal","scale":{"type":"point","domain":["A","B","C","D","E","F","G","H","I","J","K","L"],"padding":1.07},"axis":null},"y":{"field":"s","type":"quantitative","scale":{"type":"log","domain":[0.01,10],"nice":false},"axis":null},"xOffset":{"field":"density","type":"quantitative","scale":{"range":[0,-7.5]}},"order":{"field":"s","type":"quantitative"}}},
{"data":{"name":"c"},"transform":[{"filter":"datum.device==='C'"},{"density":"s","groupby":["device"],"bandwidth":0.1,"as":["s","density"]}],"mark":{"type":"line","color":"black","strokeWidth":1.4},"encoding":{"x":{"field":"device","type":"nominal","scale":{"type":"point","domain":["A","B","C","D","E","F","G","H","I","J","K","L"],"padding":1.07},"axis":null},"y":{"field":"s","type":"quantitative","scale":{"type":"log","domain":[0.01,10],"nice":false},"axis":null},"xOffset":{"field":"density","type":"quantitative","scale":{"range":[0,7.5]}},"order":{"field":"s","type":"quantitative"}}},
{"data":{"name":"c"},"transform":[{"filter":"datum.device==='C'"},{"density":"s","groupby":["device"],"bandwidth":0.1,"as":["s","density"]}],"mark":{"type":"line","color":"black","strokeWidth":1.4},"encoding":{"x":{"field":"device","type":"nominal","scale":{"type":"point","domain":["A","B","C","D","E","F","G","H","I","J","K","L"],"padding":1.07},"axis":null},"y":{"field":"s","type":"quantitative","scale":{"type":"log","domain":[0.01,10],"nice":false},"axis":null},"xOffset":{"field":"density","type":"quantitative","scale":{"range":[0,-7.5]}},"order":{"field":"s","type":"quantitative"}}},
{"data":{"name":"c"},"transform":[{"filter":"datum.device==='D'"},{"density":"s","groupby":["device"],"bandwidth":0.2,"as":["s","density"]}],"mark":{"type":"line","color":"black","strokeWidth":1.4},"encoding":{"x":{"field":"device","type":"nominal","scale":{"type":"point","domain":["A","B","C","D","E","F","G","H","I","J","K","L"],"padding":1.07},"axis":null},"y":{"field":"s","type":"quantitative","scale":{"type":"log","domain":[0.01,10],"nice":false},"axis":null},"xOffset":{"field":"density","type":"quantitative","scale":{"range":[0,7.5]}},"order":{"field":"s","type":"quantitative"}}},
{"data":{"name":"c"},"transform":[{"filter":"datum.device==='D'"},{"density":"s","groupby":["device"],"bandwidth":0.2,"as":["s","density"]}],"mark":{"type":"line","color":"black","strokeWidth":1.4},"encoding":{"x":{"field":"device","type":"nominal","scale":{"type":"point","domain":["A","B","C","D","E","F","G","H","I","J","K","L"],"padding":1.07},"axis":null},"y":{"field":"s","type":"quantitative","scale":{"type":"log","domain":[0.01,10],"nice":false},"axis":null},"xOffset":{"field":"density","type":"quantitative","scale":{"range":[0,-7.5]}},"order":{"field":"s","type":"quantitative"}}},
{"data":{"name":"c"},"transform":[{"filter":"datum.device==='E'"},{"density":"s","groupby":["device"],"bandwidth":0.18,"as":["s","density"]}],"mark":{"type":"line","color":"black","strokeWidth":1.4},"encoding":{"x":{"field":"device","type":"nominal","scale":{"type":"point","domain":["A","B","C","D","E","F","G","H","I","J","K","L"],"padding":1.07},"axis":null},"y":{"field":"s","type":"quantitative","scale":{"type":"log","domain":[0.01,10],"nice":false},"axis":null},"xOffset":{"field":"density","type":"quantitative","scale":{"range":[0,7.5]}},"order":{"field":"s","type":"quantitative"}}},
{"data":{"name":"c"},"transform":[{"filter":"datum.device==='E'"},{"density":"s","groupby":["device"],"bandwidth":0.18,"as":["s","density"]}],"mark":{"type":"line","color":"black","strokeWidth":1.4},"encoding":{"x":{"field":"device","type":"nominal","scale":{"type":"point","domain":["A","B","C","D","E","F","G","H","I","J","K","L"],"padding":1.07},"axis":null},"y":{"field":"s","type":"quantitative","scale":{"type":"log","domain":[0.01,10],"nice":false},"axis":null},"xOffset":{"field":"density","type":"quantitative","scale":{"range":[0,-7.5]}},"order":{"field":"s","type":"quantitative"}}},
{"data":{"name":"c"},"transform":[{"filter":"datum.device==='F'"},{"density":"s","groupby":["device"],"bandwidth":0.08,"as":["s","density"]}],"mark":{"type":"line","color":"black","strokeWidth":1.4},"encoding":{"x":{"field":"device","type":"nominal","scale":{"type":"point","domain":["A","B","C","D","E","F","G","H","I","J","K","L"],"padding":1.07},"axis":null},"y":{"field":"s","type":"quantitative","scale":{"type":"log","domain":[0.01,10],"nice":false},"axis":null},"xOffset":{"field":"density","type":"quantitative","scale":{"range":[0,7.5]}},"order":{"field":"s","type":"quantitative"}}},
{"data":{"name":"c"},"transform":[{"filter":"datum.device==='F'"},{"density":"s","groupby":["device"],"bandwidth":0.08,"as":["s","density"]}],"mark":{"type":"line","color":"black","strokeWidth":1.4},"encoding":{"x":{"field":"device","type":"nominal","scale":{"type":"point","domain":["A","B","C","D","E","F","G","H","I","J","K","L"],"padding":1.07},"axis":null},"y":{"field":"s","type":"quantitative","scale":{"type":"log","domain":[0.01,10],"nice":false},"axis":null},"xOffset":{"field":"density","type":"quantitative","scale":{"range":[0,-7.5]}},"order":{"field":"s","type":"quantitative"}}},
{"data":{"name":"c"},"transform":[{"filter":"datum.device==='G'"},{"density":"s","groupby":["device"],"bandwidth":0.07,"as":["s","density"]}],"mark":{"type":"line","color":"black","strokeWidth":1.4},"encoding":{"x":{"field":"device","type":"nominal","scale":{"type":"point","domain":["A","B","C","D","E","F","G","H","I","J","K","L"],"padding":1.07},"axis":null},"y":{"field":"s","type":"quantitative","scale":{"type":"log","domain":[0.01,10],"nice":false},"axis":null},"xOffset":{"field":"density","type":"quantitative","scale":{"range":[0,7.5]}},"order":{"field":"s","type":"quantitative"}}},
{"data":{"name":"c"},"transform":[{"filter":"datum.device==='G'"},{"density":"s","groupby":["device"],"bandwidth":0.07,"as":["s","density"]}],"mark":{"type":"line","color":"black","strokeWidth":1.4},"encoding":{"x":{"field":"device","type":"nominal","scale":{"type":"point","domain":["A","B","C","D","E","F","G","H","I","J","K","L"],"padding":1.07},"axis":null},"y":{"field":"s","type":"quantitative","scale":{"type":"log","domain":[0.01,10],"nice":false},"axis":null},"xOffset":{"field":"density","type":"quantitative","scale":{"range":[0,-7.5]}},"order":{"field":"s","type":"quantitative"}}},
{"data":{"name":"c"},"transform":[{"filter":"datum.device==='H'"},{"density":"s","groupby":["device"],"bandwidth":0.035,"as":["s","density"]}],"mark":{"type":"line","color":"black","strokeWidth":1.4},"encoding":{"x":{"field":"device","type":"nominal","scale":{"type":"point","domain":["A","B","C","D","E","F","G","H","I","J","K","L"],"padding":1.07},"axis":null},"y":{"field":"s","type":"quantitative","scale":{"type":"log","domain":[0.01,10],"nice":false},"axis":null},"xOffset":{"field":"density","type":"quantitative","scale":{"range":[0,7.5]}},"order":{"field":"s","type":"quantitative"}}},
{"data":{"name":"c"},"transform":[{"filter":"datum.device==='H'"},{"density":"s","groupby":["device"],"bandwidth":0.035,"as":["s","density"]}],"mark":{"type":"line","color":"black","strokeWidth":1.4},"encoding":{"x":{"field":"device","type":"nominal","scale":{"type":"point","domain":["A","B","C","D","E","F","G","H","I","J","K","L"],"padding":1.07},"axis":null},"y":{"field":"s","type":"quantitative","scale":{"type":"log","domain":[0.01,10],"nice":false},"axis":null},"xOffset":{"field":"density","type":"quantitative","scale":{"range":[0,-7.5]}},"order":{"field":"s","type":"quantitative"}}},
{"data":{"name":"c"},"transform":[{"filter":"datum.device==='I'"},{"density":"s","groupby":["device"],"bandwidth":0.035,"as":["s","density"]}],"mark":{"type":"line","color":"black","strokeWidth":1.4},"encoding":{"x":{"field":"device","type":"nominal","scale":{"type":"point","domain":["A","B","C","D","E","F","G","H","I","J","K","L"],"padding":1.07},"axis":null},"y":{"field":"s","type":"quantitative","scale":{"type":"log","domain":[0.01,10],"nice":false},"axis":null},"xOffset":{"field":"density","type":"quantitative","scale":{"range":[0,7.5]}},"order":{"field":"s","type":"quantitative"}}},
{"data":{"name":"c"},"transform":[{"filter":"datum.device==='I'"},{"density":"s","groupby":["device"],"bandwidth":0.035,"as":["s","density"]}],"mark":{"type":"line","color":"black","strokeWidth":1.4},"encoding":{"x":{"field":"device","type":"nominal","scale":{"type":"point","domain":["A","B","C","D","E","F","G","H","I","J","K","L"],"padding":1.07},"axis":null},"y":{"field":"s","type":"quantitative","scale":{"type":"log","domain":[0.01,10],"nice":false},"axis":null},"xOffset":{"field":"density","type":"quantitative","scale":{"range":[0,-7.5]}},"order":{"field":"s","type":"quantitative"}}},
{"data":{"name":"c"},"transform":[{"filter":"datum.device==='J'"},{"density":"s","groupby":["device"],"bandwidth":0.03,"as":["s","density"]}],"mark":{"type":"line","color":"black","strokeWidth":1.4},"encoding":{"x":{"field":"device","type":"nominal","scale":{"type":"point","domain":["A","B","C","D","E","F","G","H","I","J","K","L"],"padding":1.07},"axis":null},"y":{"field":"s","type":"quantitative","scale":{"type":"log","domain":[0.01,10],"nice":false},"axis":null},"xOffset":{"field":"density","type":"quantitative","scale":{"range":[0,7.5]}},"order":{"field":"s","type":"quantitative"}}},
{"data":{"name":"c"},"transform":[{"filter":"datum.device==='J'"},{"density":"s","groupby":["device"],"bandwidth":0.03,"as":["s","density"]}],"mark":{"type":"line","color":"black","strokeWidth":1.4},"encoding":{"x":{"field":"device","type":"nominal","scale":{"type":"point","domain":["A","B","C","D","E","F","G","H","I","J","K","L"],"padding":1.07},"axis":null},"y":{"field":"s","type":"quantitative","scale":{"type":"log","domain":[0.01,10],"nice":false},"axis":null},"xOffset":{"field":"density","type":"quantitative","scale":{"range":[0,-7.5]}},"order":{"field":"s","type":"quantitative"}}},
{"data":{"name":"c"},"transform":[{"filter":"datum.device==='K'"},{"density":"s","groupby":["device"],"bandwidth":0.1,"as":["s","density"]}],"mark":{"type":"line","color":"black","strokeWidth":1.4},"encoding":{"x":{"field":"device","type":"nominal","scale":{"type":"point","domain":["A","B","C","D","E","F","G","H","I","J","K","L"],"padding":1.07},"axis":null},"y":{"field":"s","type":"quantitative","scale":{"type":"log","domain":[0.01,10],"nice":false},"axis":null},"xOffset":{"field":"density","type":"quantitative","scale":{"range":[0,7.5]}},"order":{"field":"s","type":"quantitative"}}},
{"data":{"name":"c"},"transform":[{"filter":"datum.device==='K'"},{"density":"s","groupby":["device"],"bandwidth":0.1,"as":["s","density"]}],"mark":{"type":"line","color":"black","strokeWidth":1.4},"encoding":{"x":{"field":"device","type":"nominal","scale":{"type":"point","domain":["A","B","C","D","E","F","G","H","I","J","K","L"],"padding":1.07},"axis":null},"y":{"field":"s","type":"quantitative","scale":{"type":"log","domain":[0.01,10],"nice":false},"axis":null},"xOffset":{"field":"density","type":"quantitative","scale":{"range":[0,-7.5]}},"order":{"field":"s","type":"quantitative"}}},
{"data":{"name":"c"},"transform":[{"filter":"datum.device==='L'"},{"density":"s","groupby":["device"],"bandwidth":0.2,"as":["s","density"]}],"mark":{"type":"line","color":"black","strokeWidth":1.4},"encoding":{"x":{"field":"device","type":"nominal","scale":{"type":"point","domain":["A","B","C","D","E","F","G","H","I","J","K","L"],"padding":1.07},"axis":null},"y":{"field":"s","type":"quantitative","scale":{"type":"log","domain":[0.01,10],"nice":false},"axis":null},"xOffset":{"field":"density","type":"quantitative","scale":{"range":[0,7.5]}},"order":{"field":"s","type":"quantitative"}}},
{"data":{"name":"c"},"transform":[{"filter":"datum.device==='L'"},{"density":"s","groupby":["device"],"bandwidth":0.2,"as":["s","density"]}],"mark":{"type":"line","color":"black","strokeWidth":1.4},"encoding":{"x":{"field":"device","type":"nominal","scale":{"type":"point","domain":["A","B","C","D","E","F","G","H","I","J","K","L"],"padding":1.07},"axis":null},"y":{"field":"s","type":"quantitative","scale":{"type":"log","domain":[0.01,10],"nice":false},"axis":null},"xOffset":{"field":"density","type":"quantitative","scale":{"range":[0,-7.5]}},"order":{"field":"s","type":"quantitative"}}},
{"data":{"name":"c"},"mark":{"type":"point","filled":false,"color":"#ff2a2a","strokeWidth":1.8,"size":42,"opacity":1},
"encoding":{"x":{"field":"device","type":"nominal","scale":{"type":"point","domain":["A","B","C","D","E","F","G","H","I","J","K","L"],"padding":1.07},"axis":{"orient":"bottom","title":"Device","labelAngle":0,"tickSize":-6,"labelPadding":13,"titlePadding":10}},
"y":{"field":"s","type":"quantitative","scale":{"type":"log","domain":[0.01,10],"nice":false},"axis":{"orient":"left","values":[0.01,0.1,1,10],"format":"~g","title":"S₀ (μeV/√Hz)","tickSize":-8,"labelPadding":16,"titlePadding":0}},
"shape":{"datum":"S̄₀ = 0.608 μeV/√Hz","type":"nominal","scale":{"range":["circle"]},"legend":{"orient":"none","legendX":8,"legendY":210,"title":null,"padding":4,"strokeColor":"black","fillColor":"white","labelFontSize":16.5,"symbolSize":0,"symbolOpacity":0,"symbolStrokeWidth":0,"labelOffset":-17}}}},
{"data":{"name":"cmed"},"mark":{"type":"tick","color":"black","thickness":3,"size":15,"opacity":1},
"encoding":{"x":{"field":"device","type":"nominal","scale":{"type":"point","domain":["A","B","C","D","E","F","G","H","I","J","K","L"],"padding":1.07},"axis":{"orient":"top","labels":false,"title":null,"tickSize":-6}},
"y":{"field":"s","type":"quantitative","scale":{"type":"log","domain":[0.01,10],"nice":false},"axis":{"orient":"right","values":[0.1,1],"labels":false,"title":null,"tickSize":-8}}}}
],
"resolve":{"scale":{"xOffset":"independent"},"axis":{"x":"independent","y":"independent"}}},
{"width":255,"height":255,"title":{"text":"(d)","dx":-71,"dy":27},
"layer":[
{"data":{"name":"dlines"},"mark":{"type":"rule","color":"black","strokeWidth":1.5,"strokeDash":[6,5]},"encoding":{"y":{"field":"a","type":"quantitative","scale":{"domain":[-0.49,2.48],"nice":false,"zero":false},"axis":null}}},
{"data":{"name":"d"},"transform":[{"filter":"datum.device==='A'"},{"density":"a","groupby":["device"],"bandwidth":0.12,"as":["a","density"]}],"mark":{"type":"line","color":"black","strokeWidth":1.4},"encoding":{"x":{"field":"device","type":"nominal","scale":{"type":"point","domain":["A","B","C","D","E","F","G","H","I","J","K","L"],"padding":1.0},"axis":null},"y":{"field":"a","type":"quantitative","scale":{"domain":[-0.49,2.48],"nice":false,"zero":false},"axis":null},"xOffset":{"field":"density","type":"quantitative","scale":{"range":[0,7]}},"order":{"field":"a","type":"quantitative"}}},
{"data":{"name":"d"},"transform":[{"filter":"datum.device==='A'"},{"density":"a","groupby":["device"],"bandwidth":0.12,"as":["a","density"]}],"mark":{"type":"line","color":"black","strokeWidth":1.4},"encoding":{"x":{"field":"device","type":"nominal","scale":{"type":"point","domain":["A","B","C","D","E","F","G","H","I","J","K","L"],"padding":1.0},"axis":null},"y":{"field":"a","type":"quantitative","scale":{"domain":[-0.49,2.48],"nice":false,"zero":false},"axis":null},"xOffset":{"field":"density","type":"quantitative","scale":{"range":[0,-7]}},"order":{"field":"a","type":"quantitative"}}},
{"data":{"name":"d"},"transform":[{"filter":"datum.device==='B'"},{"density":"a","groupby":["device"],"bandwidth":0.15,"as":["a","density"]}],"mark":{"type":"line","color":"black","strokeWidth":1.4},"encoding":{"x":{"field":"device","type":"nominal","scale":{"type":"point","domain":["A","B","C","D","E","F","G","H","I","J","K","L"],"padding":1.0},"axis":null},"y":{"field":"a","type":"quantitative","scale":{"domain":[-0.49,2.48],"nice":false,"zero":false},"axis":null},"xOffset":{"field":"density","type":"quantitative","scale":{"range":[0,7]}},"order":{"field":"a","type":"quantitative"}}},
{"data":{"name":"d"},"transform":[{"filter":"datum.device==='B'"},{"density":"a","groupby":["device"],"bandwidth":0.15,"as":["a","density"]}],"mark":{"type":"line","color":"black","strokeWidth":1.4},"encoding":{"x":{"field":"device","type":"nominal","scale":{"type":"point","domain":["A","B","C","D","E","F","G","H","I","J","K","L"],"padding":1.0},"axis":null},"y":{"field":"a","type":"quantitative","scale":{"domain":[-0.49,2.48],"nice":false,"zero":false},"axis":null},"xOffset":{"field":"density","type":"quantitative","scale":{"range":[0,-7]}},"order":{"field":"a","type":"quantitative"}}},
{"data":{"name":"d"},"transform":[{"filter":"datum.device==='C'"},{"density":"a","groupby":["device"],"bandwidth":0.12,"as":["a","density"]}],"mark":{"type":"line","color":"black","strokeWidth":1.4},"encoding":{"x":{"field":"device","type":"nominal","scale":{"type":"point","domain":["A","B","C","D","E","F","G","H","I","J","K","L"],"padding":1.0},"axis":null},"y":{"field":"a","type":"quantitative","scale":{"domain":[-0.49,2.48],"nice":false,"zero":false},"axis":null},"xOffset":{"field":"density","type":"quantitative","scale":{"range":[0,7]}},"order":{"field":"a","type":"quantitative"}}},
{"data":{"name":"d"},"transform":[{"filter":"datum.device==='C'"},{"density":"a","groupby":["device"],"bandwidth":0.12,"as":["a","density"]}],"mark":{"type":"line","color":"black","strokeWidth":1.4},"encoding":{"x":{"field":"device","type":"nominal","scale":{"type":"point","domain":["A","B","C","D","E","F","G","H","I","J","K","L"],"padding":1.0},"axis":null},"y":{"field":"a","type":"quantitative","scale":{"domain":[-0.49,2.48],"nice":false,"zero":false},"axis":null},"xOffset":{"field":"density","type":"quantitative","scale":{"range":[0,-7]}},"order":{"field":"a","type":"quantitative"}}},
{"data":{"name":"d"},"transform":[{"filter":"datum.device==='D'"},{"density":"a","groupby":["device"],"bandwidth":0.25,"as":["a","density"]}],"mark":{"type":"line","color":"black","strokeWidth":1.4},"encoding":{"x":{"field":"device","type":"nominal","scale":{"type":"point","domain":["A","B","C","D","E","F","G","H","I","J","K","L"],"padding":1.0},"axis":null},"y":{"field":"a","type":"quantitative","scale":{"domain":[-0.49,2.48],"nice":false,"zero":false},"axis":null},"xOffset":{"field":"density","type":"quantitative","scale":{"range":[0,7]}},"order":{"field":"a","type":"quantitative"}}},
{"data":{"name":"d"},"transform":[{"filter":"datum.device==='D'"},{"density":"a","groupby":["device"],"bandwidth":0.25,"as":["a","density"]}],"mark":{"type":"line","color":"black","strokeWidth":1.4},"encoding":{"x":{"field":"device","type":"nominal","scale":{"type":"point","domain":["A","B","C","D","E","F","G","H","I","J","K","L"],"padding":1.0},"axis":null},"y":{"field":"a","type":"quantitative","scale":{"domain":[-0.49,2.48],"nice":false,"zero":false},"axis":null},"xOffset":{"field":"density","type":"quantitative","scale":{"range":[0,-7]}},"order":{"field":"a","type":"quantitative"}}},
{"data":{"name":"d"},"transform":[{"filter":"datum.device==='E'"},{"density":"a","groupby":["device"],"bandwidth":0.25,"as":["a","density"]}],"mark":{"type":"line","color":"black","strokeWidth":1.4},"encoding":{"x":{"field":"device","type":"nominal","scale":{"type":"point","domain":["A","B","C","D","E","F","G","H","I","J","K","L"],"padding":1.0},"axis":null},"y":{"field":"a","type":"quantitative","scale":{"domain":[-0.49,2.48],"nice":false,"zero":false},"axis":null},"xOffset":{"field":"density","type":"quantitative","scale":{"range":[0,7]}},"order":{"field":"a","type":"quantitative"}}},
{"data":{"name":"d"},"transform":[{"filter":"datum.device==='E'"},{"density":"a","groupby":["device"],"bandwidth":0.25,"as":["a","density"]}],"mark":{"type":"line","color":"black","strokeWidth":1.4},"encoding":{"x":{"field":"device","type":"nominal","scale":{"type":"point","domain":["A","B","C","D","E","F","G","H","I","J","K","L"],"padding":1.0},"axis":null},"y":{"field":"a","type":"quantitative","scale":{"domain":[-0.49,2.48],"nice":false,"zero":false},"axis":null},"xOffset":{"field":"density","type":"quantitative","scale":{"range":[0,-7]}},"order":{"field":"a","type":"quantitative"}}},
{"data":{"name":"d"},"transform":[{"filter":"datum.device==='F'"},{"density":"a","groupby":["device"],"bandwidth":0.2,"as":["a","density"]}],"mark":{"type":"line","color":"black","strokeWidth":1.4},"encoding":{"x":{"field":"device","type":"nominal","scale":{"type":"point","domain":["A","B","C","D","E","F","G","H","I","J","K","L"],"padding":1.0},"axis":null},"y":{"field":"a","type":"quantitative","scale":{"domain":[-0.49,2.48],"nice":false,"zero":false},"axis":null},"xOffset":{"field":"density","type":"quantitative","scale":{"range":[0,7]}},"order":{"field":"a","type":"quantitative"}}},
{"data":{"name":"d"},"transform":[{"filter":"datum.device==='F'"},{"density":"a","groupby":["device"],"bandwidth":0.2,"as":["a","density"]}],"mark":{"type":"line","color":"black","strokeWidth":1.4},"encoding":{"x":{"field":"device","type":"nominal","scale":{"type":"point","domain":["A","B","C","D","E","F","G","H","I","J","K","L"],"padding":1.0},"axis":null},"y":{"field":"a","type":"quantitative","scale":{"domain":[-0.49,2.48],"nice":false,"zero":false},"axis":null},"xOffset":{"field":"density","type":"quantitative","scale":{"range":[0,-7]}},"order":{"field":"a","type":"quantitative"}}},
{"data":{"name":"d"},"transform":[{"filter":"datum.device==='G'"},{"density":"a","groupby":["device"],"bandwidth":0.18,"as":["a","density"]}],"mark":{"type":"line","color":"black","strokeWidth":1.4},"encoding":{"x":{"field":"device","type":"nominal","scale":{"type":"point","domain":["A","B","C","D","E","F","G","H","I","J","K","L"],"padding":1.0},"axis":null},"y":{"field":"a","type":"quantitative","scale":{"domain":[-0.49,2.48],"nice":false,"zero":false},"axis":null},"xOffset":{"field":"density","type":"quantitative","scale":{"range":[0,7]}},"order":{"field":"a","type":"quantitative"}}},
{"data":{"name":"d"},"transform":[{"filter":"datum.device==='G'"},{"density":"a","groupby":["device"],"bandwidth":0.18,"as":["a","density"]}],"mark":{"type":"line","color":"black","strokeWidth":1.4},"encoding":{"x":{"field":"device","type":"nominal","scale":{"type":"point","domain":["A","B","C","D","E","F","G","H","I","J","K","L"],"padding":1.0},"axis":null},"y":{"field":"a","type":"quantitative","scale":{"domain":[-0.49,2.48],"nice":false,"zero":false},"axis":null},"xOffset":{"field":"density","type":"quantitative","scale":{"range":[0,-7]}},"order":{"field":"a","type":"quantitative"}}},
{"data":{"name":"d"},"transform":[{"filter":"datum.device==='H'"},{"density":"a","groupby":["device"],"bandwidth":0.15,"as":["a","density"]}],"mark":{"type":"line","color":"black","strokeWidth":1.4},"encoding":{"x":{"field":"device","type":"nominal","scale":{"type":"point","domain":["A","B","C","D","E","F","G","H","I","J","K","L"],"padding":1.0},"axis":null},"y":{"field":"a","type":"quantitative","scale":{"domain":[-0.49,2.48],"nice":false,"zero":false},"axis":null},"xOffset":{"field":"density","type":"quantitative","scale":{"range":[0,7]}},"order":{"field":"a","type":"quantitative"}}},
{"data":{"name":"d"},"transform":[{"filter":"datum.device==='H'"},{"density":"a","groupby":["device"],"bandwidth":0.15,"as":["a","density"]}],"mark":{"type":"line","color":"black","strokeWidth":1.4},"encoding":{"x":{"field":"device","type":"nominal","scale":{"type":"point","domain":["A","B","C","D","E","F","G","H","I","J","K","L"],"padding":1.0},"axis":null},"y":{"field":"a","type":"quantitative","scale":{"domain":[-0.49,2.48],"nice":false,"zero":false},"axis":null},"xOffset":{"field":"density","type":"quantitative","scale":{"range":[0,-7]}},"order":{"field":"a","type":"quantitative"}}},
{"data":{"name":"d"},"transform":[{"filter":"datum.device==='I'"},{"density":"a","groupby":["device"],"bandwidth":0.4,"as":["a","density"]}],"mark":{"type":"line","color":"black","strokeWidth":1.4},"encoding":{"x":{"field":"device","type":"nominal","scale":{"type":"point","domain":["A","B","C","D","E","F","G","H","I","J","K","L"],"padding":1.0},"axis":null},"y":{"field":"a","type":"quantitative","scale":{"domain":[-0.49,2.48],"nice":false,"zero":false},"axis":null},"xOffset":{"field":"density","type":"quantitative","scale":{"range":[0,7]}},"order":{"field":"a","type":"quantitative"}}},
{"data":{"name":"d"},"transform":[{"filter":"datum.device==='I'"},{"density":"a","groupby":["device"],"bandwidth":0.4,"as":["a","density"]}],"mark":{"type":"line","color":"black","strokeWidth":1.4},"encoding":{"x":{"field":"device","type":"nominal","scale":{"type":"point","domain":["A","B","C","D","E","F","G","H","I","J","K","L"],"padding":1.0},"axis":null},"y":{"field":"a","type":"quantitative","scale":{"domain":[-0.49,2.48],"nice":false,"zero":false},"axis":null},"xOffset":{"field":"density","type":"quantitative","scale":{"range":[0,-7]}},"order":{"field":"a","type":"quantitative"}}},
{"data":{"name":"d"},"transform":[{"filter":"datum.device==='J'"},{"density":"a","groupby":["device"],"bandwidth":0.15,"as":["a","density"]}],"mark":{"type":"line","color":"black","strokeWidth":1.4},"encoding":{"x":{"field":"device","type":"nominal","scale":{"type":"point","domain":["A","B","C","D","E","F","G","H","I","J","K","L"],"padding":1.0},"axis":null},"y":{"field":"a","type":"quantitative","scale":{"domain":[-0.49,2.48],"nice":false,"zero":false},"axis":null},"xOffset":{"field":"density","type":"quantitative","scale":{"range":[0,7]}},"order":{"field":"a","type":"quantitative"}}},
{"data":{"name":"d"},"transform":[{"filter":"datum.device==='J'"},{"density":"a","groupby":["device"],"bandwidth":0.15,"as":["a","density"]}],"mark":{"type":"line","color":"black","strokeWidth":1.4},"encoding":{"x":{"field":"device","type":"nominal","scale":{"type":"point","domain":["A","B","C","D","E","F","G","H","I","J","K","L"],"padding":1.0},"axis":null},"y":{"field":"a","type":"quantitative","scale":{"domain":[-0.49,2.48],"nice":false,"zero":false},"axis":null},"xOffset":{"field":"density","type":"quantitative","scale":{"range":[0,-7]}},"order":{"field":"a","type":"quantitative"}}},
{"data":{"name":"d"},"transform":[{"filter":"datum.device==='K'"},{"density":"a","groupby":["device"],"bandwidth":0.18,"as":["a","density"]}],"mark":{"type":"line","color":"black","strokeWidth":1.4},"encoding":{"x":{"field":"device","type":"nominal","scale":{"type":"point","domain":["A","B","C","D","E","F","G","H","I","J","K","L"],"padding":1.0},"axis":null},"y":{"field":"a","type":"quantitative","scale":{"domain":[-0.49,2.48],"nice":false,"zero":false},"axis":null},"xOffset":{"field":"density","type":"quantitative","scale":{"range":[0,7]}},"order":{"field":"a","type":"quantitative"}}},
{"data":{"name":"d"},"transform":[{"filter":"datum.device==='K'"},{"density":"a","groupby":["device"],"bandwidth":0.18,"as":["a","density"]}],"mark":{"type":"line","color":"black","strokeWidth":1.4},"encoding":{"x":{"field":"device","type":"nominal","scale":{"type":"point","domain":["A","B","C","D","E","F","G","H","I","J","K","L"],"padding":1.0},"axis":null},"y":{"field":"a","type":"quantitative","scale":{"domain":[-0.49,2.48],"nice":false,"zero":false},"axis":null},"xOffset":{"field":"density","type":"quantitative","scale":{"range":[0,-7]}},"order":{"field":"a","type":"quantitative"}}},
{"data":{"name":"d"},"transform":[{"filter":"datum.device==='L'"},{"density":"a","groupby":["device"],"bandwidth":0.15,"as":["a","density"]}],"mark":{"type":"line","color":"black","strokeWidth":1.4},"encoding":{"x":{"field":"device","type":"nominal","scale":{"type":"point","domain":["A","B","C","D","E","F","G","H","I","J","K","L"],"padding":1.0},"axis":null},"y":{"field":"a","type":"quantitative","scale":{"domain":[-0.49,2.48],"nice":false,"zero":false},"axis":null},"xOffset":{"field":"density","type":"quantitative","scale":{"range":[0,7]}},"order":{"field":"a","type":"quantitative"}}},
{"data":{"name":"d"},"transform":[{"filter":"datum.device==='L'"},{"density":"a","groupby":["device"],"bandwidth":0.15,"as":["a","density"]}],"mark":{"type":"line","color":"black","strokeWidth":1.4},"encoding":{"x":{"field":"device","type":"nominal","scale":{"type":"point","domain":["A","B","C","D","E","F","G","H","I","J","K","L"],"padding":1.0},"axis":null},"y":{"field":"a","type":"quantitative","scale":{"domain":[-0.49,2.48],"nice":false,"zero":false},"axis":null},"xOffset":{"field":"density","type":"quantitative","scale":{"range":[0,-7]}},"order":{"field":"a","type":"quantitative"}}},
{"data":{"name":"d"},"mark":{"type":"point","filled":false,"color":"#3d9e2e","strokeWidth":1.8,"size":42,"opacity":1},
"encoding":{"x":{"field":"device","type":"nominal","scale":{"type":"point","domain":["A","B","C","D","E","F","G","H","I","J","K","L"],"padding":1.0},"axis":{"orient":"bottom","title":"Device","labelAngle":0,"tickSize":-6,"labelPadding":13,"titlePadding":6}},
"y":{"field":"a","type":"quantitative","scale":{"domain":[-0.49,2.48],"nice":false,"zero":false},"axis":{"orient":"left","values":[0,0.5,1,1.5,2],"labelExpr":"datum.value % 1 === 0 ? format(datum.value, 'd') : ''","title":"α","tickSize":-8,"labelPadding":15,"titlePadding":10}},
"shape":{"datum":"ᾱ = 1.15","type":"nominal","scale":{"range":["circle"]},"legend":{"orient":"none","legendX":12,"legendY":7,"title":null,"padding":5,"strokeColor":"black","fillColor":"white","labelFontSize":20,"symbolSize":0,"symbolOpacity":0,"symbolStrokeWidth":0,"labelOffset":-16}}}},
{"data":{"name":"dmed"},"mark":{"type":"tick","color":"black","thickness":3,"size":15,"opacity":1},
"encoding":{"x":{"field":"device","type":"nominal","scale":{"type":"point","domain":["A","B","C","D","E","F","G","H","I","J","K","L"],"padding":1.0},"axis":{"orient":"top","labels":false,"title":null,"tickSize":-6}},
"y":{"field":"a","type":"quantitative","scale":{"domain":[-0.49,2.48],"nice":false,"zero":false},"axis":{"orient":"right","values":[0,0.5,1,1.5,2],"labels":false,"title":null,"tickSize":-8}}}}
],
"resolve":{"scale":{"xOffset":"independent"},"axis":{"x":"independent","y":"independent"}}}
]
}
